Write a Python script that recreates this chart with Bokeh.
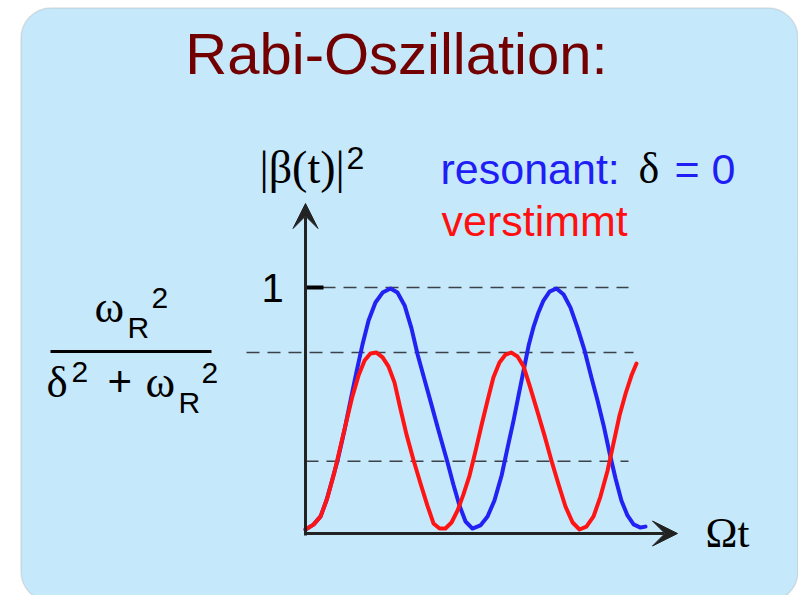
from bokeh.plotting import figure
from bokeh.models import Range1d, BoxAnnotation, Label, Arrow, VeeHead
from bokeh.embed import file_html
from bokeh.resources import INLINE

# ---------------- data ----------------
# x: Omega*t, y: |beta(t)|^2
blue_x = [0.00, 0.30, 0.57, 0.79, 1.02, 1.21, 1.47, 1.70, 1.92, 2.15, 2.38, 2.64, 2.91, 3.21,
          3.47, 3.74, 4.00, 4.23, 4.49, 4.75, 5.02, 5.36, 5.58, 5.81, 6.04, 6.30, 6.60, 6.87,
          7.13, 7.40, 7.62, 7.85, 8.04, 8.23, 8.42, 8.60, 8.79, 8.98, 9.21, 9.47, 9.74, 10.00,
          10.26, 10.53, 10.79, 11.02, 11.25, 11.47, 11.70, 11.92, 12.15, 12.38, 12.64, 12.83]
blue_y = [0.000, 0.020, 0.054, 0.120, 0.210, 0.285, 0.410, 0.533, 0.649, 0.764, 0.864, 0.938, 0.979, 0.996,
          0.979, 0.926, 0.831, 0.723, 0.620, 0.517, 0.409, 0.277, 0.186, 0.099, 0.033, 0.004, 0.017, 0.054,
          0.120, 0.223, 0.335, 0.450, 0.554, 0.657, 0.760, 0.835, 0.897, 0.946, 0.983, 0.996, 0.971, 0.917,
          0.835, 0.740, 0.628, 0.533, 0.430, 0.318, 0.211, 0.120, 0.058, 0.021, 0.008, 0.012]

red_x = [0.00, 0.30, 0.57, 0.83, 1.09, 1.32, 1.55, 1.77, 2.00, 2.23, 2.45, 2.68, 2.91, 3.13,
         3.36, 3.58, 3.81, 4.08, 4.34, 4.60, 4.83, 5.06, 5.28, 5.51, 5.74, 5.96, 6.19, 6.42,
         6.64, 6.87, 7.09, 7.32, 7.55, 7.77, 8.00, 8.23, 8.49, 8.75, 9.02, 9.28, 9.55, 9.81,
         10.08, 10.34, 10.60, 10.87, 11.13, 11.40, 11.62, 11.85, 12.08, 12.30, 12.49]
red_y = [0.000, 0.020, 0.054, 0.132, 0.236, 0.343, 0.450, 0.550, 0.636, 0.698, 0.727, 0.731, 0.711, 0.674,
         0.607, 0.500, 0.393, 0.285, 0.190, 0.099, 0.025, 0.004, 0.004, 0.029, 0.079, 0.145, 0.223, 0.326,
         0.430, 0.533, 0.628, 0.690, 0.723, 0.731, 0.715, 0.674, 0.583, 0.488, 0.388, 0.285, 0.186, 0.095,
         0.029, 0.000, 0.012, 0.054, 0.136, 0.244, 0.355, 0.471, 0.562, 0.636, 0.686]

level_values = [1.0, 0.731, 0.282]   # dashed reference levels
tick_values = [1.0]
tick_labels = ["1"]

# ---------------- layout helpers (pixel -> data) ----------------
X0_PX, PX_PER_X = 305.0, 26.5
Y0_PX, PX_PER_Y = 529.0, 242.0
W, H = 798, 595
BASE_CORR = 0.37   # label baseline correction (fraction of font size)


def dx(px):
    return (px - X0_PX) / PX_PER_X


def dy(py):
    return (Y0_PX - py) / PX_PER_Y


p = figure(width=W, height=H,
           x_range=Range1d(dx(0), dx(W)), y_range=Range1d(dy(H), dy(0)),
           output_backend="svg", toolbar_location=None,
           x_axis_type=None, y_axis_type=None, min_border=0,
           outline_line_color=None, background_fill_color="white",
           border_fill_color="white")
p.grid.visible = False

# rounded light-blue slide box
box = BoxAnnotation(left=dx(20.5), right=dx(797.5), top=dy(7.5), bottom=dy(601),
                    border_radius=30, fill_color="#c6e8fb", fill_alpha=1.0,
                    line_color="#a6a6a6", line_width=1.5, level="underlay")
p.add_layout(box)

# dashed reference lines
p.segment(x0=[dx(322), dx(246), dx(305)], x1=[dx(628), dx(633), dx(628)],
          y0=level_values, y1=level_values,
          line_color="#3a4248", line_width=1.5, line_dash="13 8")

# axes with arrow heads
ax_col = "#222222"
p.add_layout(Arrow(end=VeeHead(size=25, fill_color=ax_col, line_color=ax_col, line_width=1),
                   x_start=dx(305), y_start=dy(535), x_end=dx(305), y_end=dy(203),
                   line_color=ax_col, line_width=3))
p.add_layout(Arrow(end=VeeHead(size=25, fill_color=ax_col, line_color=ax_col, line_width=1),
                   x_start=dx(303.5), y_start=dy(533), x_end=dx(677), y_end=dy(533),
                   line_color=ax_col, line_width=3))

# tick at 1
p.segment(x0=[dx(305)] * len(tick_values), x1=[dx(323)] * len(tick_values),
          y0=tick_values, y1=tick_values, line_color="black", line_width=4)

# curves
p.line(blue_x, blue_y, line_color="#2222f2", line_width=4, line_join="round", line_cap="round")
p.line(red_x, red_y, line_color="#ff1414", line_width=4, line_join="round", line_cap="round")

# fraction bar
p.segment(x0=[dx(50)], x1=[dx(211)], y0=[dy(351)], y1=[dy(351)], line_color="black", line_width=3)

SANS = "Liberation Sans"
SERIF = "Liberation Serif"


def lab(x, y, text, font, size, color="black", align="left"):
    p.add_layout(Label(x=dx(x), y=dy(y - BASE_CORR * size), text=text, text_font=font,
                       text_font_size=f"{size}px", text_color=color,
                       text_align=align, text_baseline="alphabetic"))


lab(396, 74, "Rabi-Oszillation:", SANS, 58, "#730000", "center")
lab(259, 184, "|β(t)|", SERIF, 46)
lab(346, 169, "2", SANS, 32)
lab(440, 184, "resonant:", SANS, 43, "#1f1ff5")
lab(638, 184, "δ", SERIF, 44)
lab(674, 184, "= 0", SANS, 43, "#1f1ff5")
lab(441, 236, "verstimmt", SANS, 43, "#ff1010")
for v, t in zip(tick_values, tick_labels):
    p.add_layout(Label(x=dx(261), y=v, y_offset=(Y0_PX - PX_PER_Y * v) - (302 - BASE_CORR * 40),
                       text=t, text_font=SANS,
                       text_font_size="40px", text_color="black",
                       text_align="left", text_baseline="alphabetic"))

# formula omega_R^2 / (delta^2 + omega_R^2)
lab(94, 323, "ω", SERIF, 45)
lab(127, 338, "R", SANS, 30)
lab(151, 309, "2", SANS, 30)
lab(46, 398, "δ", SERIF, 45)
lab(71, 383, "2", SANS, 30)
lab(107, 397, "+", SANS, 42)
lab(145, 398, "ω", SERIF, 45)
lab(178, 413, "R", SANS, 30)
lab(201, 384, "2", SANS, 30)

lab(705, 548, "Ωt", SERIF, 43)

open("out.html", "w").write(file_html(p, INLINE))
